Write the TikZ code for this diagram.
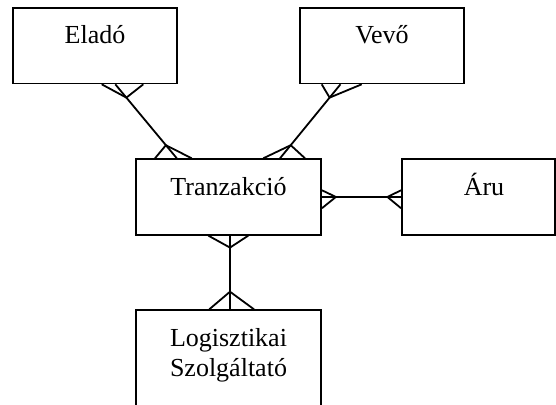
\documentclass[tikz,border=0pt]{standalone}
\usepackage{fontspec}
\setmainfont{Liberation Serif}
\usetikzlibrary{calc}

\tikzset{
  entity/.style={draw, rectangle, inner sep=0pt, anchor=north,
    text height=36pt, text depth=39.5pt,
    font=\fontsize{26}{30}\selectfont}
}

\begin{document}
\begin{tikzpicture}[x=1pt, y=-1pt, line width=1.8pt]
    \useasboundingbox (0,0) rectangle (556,404);

    % Draw the entities
    \node[entity, minimum width=164pt] (elado) at (95,7) {Eladó};
    \node[entity, minimum width=164pt] (vevo) at (382,7) {Vevő};
    \node[entity, minimum width=185pt] (tranz) at (228.5,158.3) {Tranzakció};
    \node[entity, minimum width=153pt] (aru) at (478.5,158.3) {\hspace*{11pt}Áru};
    \node[entity, minimum width=185pt, text depth=59.5pt] (logist) at (228.5,309.3)
        {\vtop{\halign{\hfil#\hfil\cr Logisztikai\cr Szolgáltató\cr}}};

    % Eladó -- Tranzakció
    \coordinate (e1) at ($(elado.south)+(20.3,0)$);
    \coordinate (t1) at ($(tranz.north)+(-51.7,0)$);
    \draw (e1) -- (t1);
    \coordinate (fe) at ($(e1)!0.18!(t1)$);
    \foreach \dx in {6.7,48.3} \draw (fe) -- ($(elado.south)+(\dx,0)$);
    \coordinate (ft1) at ($(t1)!0.177!(e1)$);
    \foreach \dx in {-73.5,-36.8} \draw (ft1) -- ($(tranz.north)+(\dx,0)$);

    % Vevő -- Tranzakció
    \coordinate (v1) at ($(vevo.south)+(-41.5,0)$);
    \coordinate (t2) at ($(tranz.north)+(51.5,0)$);
    \draw (v1) -- (t2);
    \coordinate (fv) at ($(v1)!0.18!(t2)$);
    \foreach \dx in {-60.3,-20.3} \draw (fv) -- ($(vevo.south)+(\dx,0)$);
    \coordinate (ft2) at ($(t2)!0.177!(v1)$);
    \foreach \dx in {34.8,76.5} \draw (ft2) -- ($(tranz.north)+(\dx,0)$);

    % Tranzakció -- Áru
    \draw (tranz.east) -- (aru.west);
    \coordinate (ft3) at ($(tranz.east)+(14,0)$);
    \foreach \dy in {-6.7,11.3} \draw (ft3) -- ($(tranz.east)+(0,\dy)$);
    \coordinate (fa) at ($(aru.west)+(-13.7,0)$);
    \foreach \dy in {-6.7,11.3} \draw (fa) -- ($(aru.west)+(0,\dy)$);

    % Tranzakció -- Logisztikai Szolgáltató
    \coordinate (t4) at ($(tranz.south)+(1.5,0)$);
    \coordinate (l1) at ($(logist.north)+(1.5,0)$);
    \draw (t4) -- (l1);
    \coordinate (ft4) at ($(t4)+(0,12)$);
    \foreach \dx in {-20.2,19.8} \draw (ft4) -- ($(tranz.south)+(\dx,0)$);
    \coordinate (fl) at ($(l1)+(0,-17.6)$);
    \foreach \dx in {-19.2,25.5} \draw (fl) -- ($(logist.north)+(\dx,0)$);
\end{tikzpicture}
\end{document}
